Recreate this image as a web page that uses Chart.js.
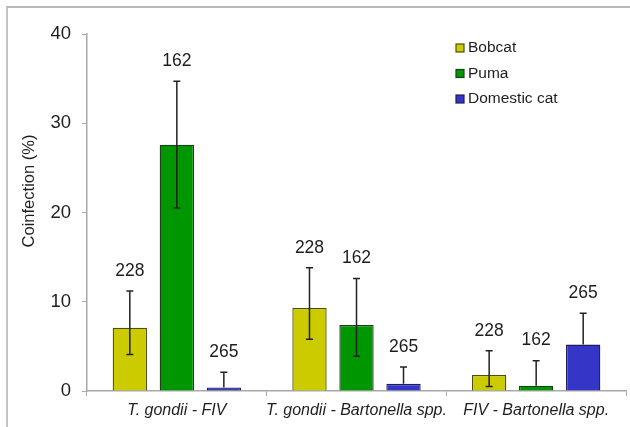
<!DOCTYPE html>
<html>
<head>
<meta charset="utf-8">
<script src="https://cdn.jsdelivr.net/npm/chart.js@4.4.1/dist/chart.umd.min.js"></script>
<style>
  body { margin: 0; background: #fff; }
  #frame { position: absolute; left: 6px; top: 6px; width: 640px; height: 440px;
           border-top: 2px solid #b9b9b9; border-left: 2px solid #c4c4c4; }
  #chart { position: absolute; left: 0; top: 0; }
</style>
</head>
<body>
<div id="frame"></div>
<canvas id="chart" width="630" height="427"></canvas>
<script>
const categories = ["T. gondii - FIV", "T. gondii - Bartonella spp.", "FIV - Bartonella spp."];
const seriesNames = ["Bobcat", "Puma", "Domestic cat"];
const sampleSizes = [228, 162, 265];

const bobcat = [7.1, 9.3, 1.8];
const puma = [27.6, 7.4, 0.6];
const domesticCat = [0.4, 0.8, 5.2];

// upper / lower ends of the error bars (null = no lower whisker shown)
const bobcatHigh = [11.2, 13.8, 4.5];
const bobcatLow = [4.1, 5.8, 0.5];
const pumaHigh = [34.7, 12.6, 3.4];
const pumaLow = [20.5, 3.9, null];
const domesticHigh = [2.1, 2.7, 8.7];
const domesticLow = [null, null, null];

const yTicks = [0, 10, 20, 30, 40];

const fills = ["#cbcb00", "#009600", "#3535c8"];
const borders = ["#4d4d10", "#1c401c", "#1e1e55"];

const values = [bobcat, puma, domesticCat];
const highs = [bobcatHigh, pumaHigh, domesticHigh];
const lows = [bobcatLow, pumaLow, domesticLow];

const textColor = "#1e1e1e";
const axisColor = "#a8a8a8";
const font = "'Liberation Sans', Arial, sans-serif";

const errorBars = {
  id: "errorBars",
  afterDatasetsDraw(chart) {
    const ctx = chart.ctx;
    const y = chart.scales.y;
    ctx.save();
    chart.data.datasets.forEach((ds, di) => {
      const meta = chart.getDatasetMeta(di);
      meta.data.forEach((bar, i) => {
        const hi = highs[di][i];
        const lo = lows[di][i];
        const yHi = y.getPixelForValue(hi);
        const yLo = lo === null ? y.getPixelForValue(values[di][i]) : y.getPixelForValue(lo);
        ctx.strokeStyle = "#222";
        ctx.lineWidth = 1.5;
        ctx.beginPath();
        ctx.moveTo(bar.x, yHi);
        ctx.lineTo(bar.x, yLo);
        ctx.moveTo(bar.x - 3.5, yHi);
        ctx.lineTo(bar.x + 3.5, yHi);
        if (lo !== null) {
          ctx.moveTo(bar.x - 3.5, yLo);
          ctx.lineTo(bar.x + 3.5, yLo);
        }
        ctx.stroke();
        ctx.fillStyle = textColor;
        ctx.font = "17.5px " + font;
        ctx.textAlign = "center";
        ctx.textBaseline = "middle";
        ctx.fillText(String(sampleSizes[di]), bar.x, yHi - 20);
      });
    });
    ctx.restore();
  }
};

const extras = {
  id: "extras",
  afterDraw(chart) {
    const ctx = chart.ctx;
    ctx.save();
    // y axis title
    ctx.translate(29, 191);
    ctx.rotate(-Math.PI / 2);
    ctx.fillStyle = textColor;
    ctx.font = "16.5px " + font;
    ctx.textAlign = "center";
    ctx.textBaseline = "middle";
    ctx.fillText("Coinfection (%)", 0, 0);
    ctx.restore();

    // legend
    ctx.save();
    ctx.font = "15.5px " + font;
    ctx.textBaseline = "middle";
    ctx.textAlign = "left";
    seriesNames.forEach((name, i) => {
      const cy = 48 + i * 25.5;
      ctx.fillStyle = fills[i];
      ctx.fillRect(456, cy - 4, 8, 8);
      ctx.strokeStyle = borders[i];
      ctx.lineWidth = 1.2;
      ctx.strokeRect(456, cy - 4, 8, 8);
      ctx.fillStyle = textColor;
      ctx.fillText(name, 468, cy);
    });
    ctx.restore();
  }
};

new Chart(document.getElementById("chart"), {
  type: "bar",
  data: {
    labels: categories,
    datasets: seriesNames.map((name, i) => ({
      label: name,
      data: values[i],
      backgroundColor: fills[i],
      borderColor: borders[i],
      borderWidth: 1.3,
      categoryPercentage: 0.785,
      barPercentage: 0.73
    }))
  },
  options: {
    responsive: false,
    animation: false,
    devicePixelRatio: 1,
    layout: { padding: { left: 0, right: 4, top: 34, bottom: 0 } },
    plugins: {
      legend: { display: false },
      tooltip: { enabled: false }
    },
    scales: {
      x: {
        grid: { drawOnChartArea: false, color: axisColor, tickLength: 5, offset: true },
        border: { color: axisColor, width: 1.5 },
        ticks: {
          color: textColor,
          padding: 5,
          font: { family: font, size: 16, style: "italic" },
          maxRotation: 0,
          autoSkip: false
        },
        afterFit: s => { s.height = 36; }
      },
      y: {
        min: 0,
        max: 40,
        afterBuildTicks: s => { s.ticks = yTicks.map(v => ({ value: v })); },
        grid: { drawOnChartArea: false, color: axisColor, tickLength: 5 },
        border: { color: axisColor, width: 1.5 },
        ticks: {
          color: textColor,
          padding: 11,
          font: { family: font, size: 18.5 }
        },
        afterFit: s => { s.width = 87; }
      }
    }
  },
  plugins: [errorBars, extras]
});
</script>
</body>
</html>
